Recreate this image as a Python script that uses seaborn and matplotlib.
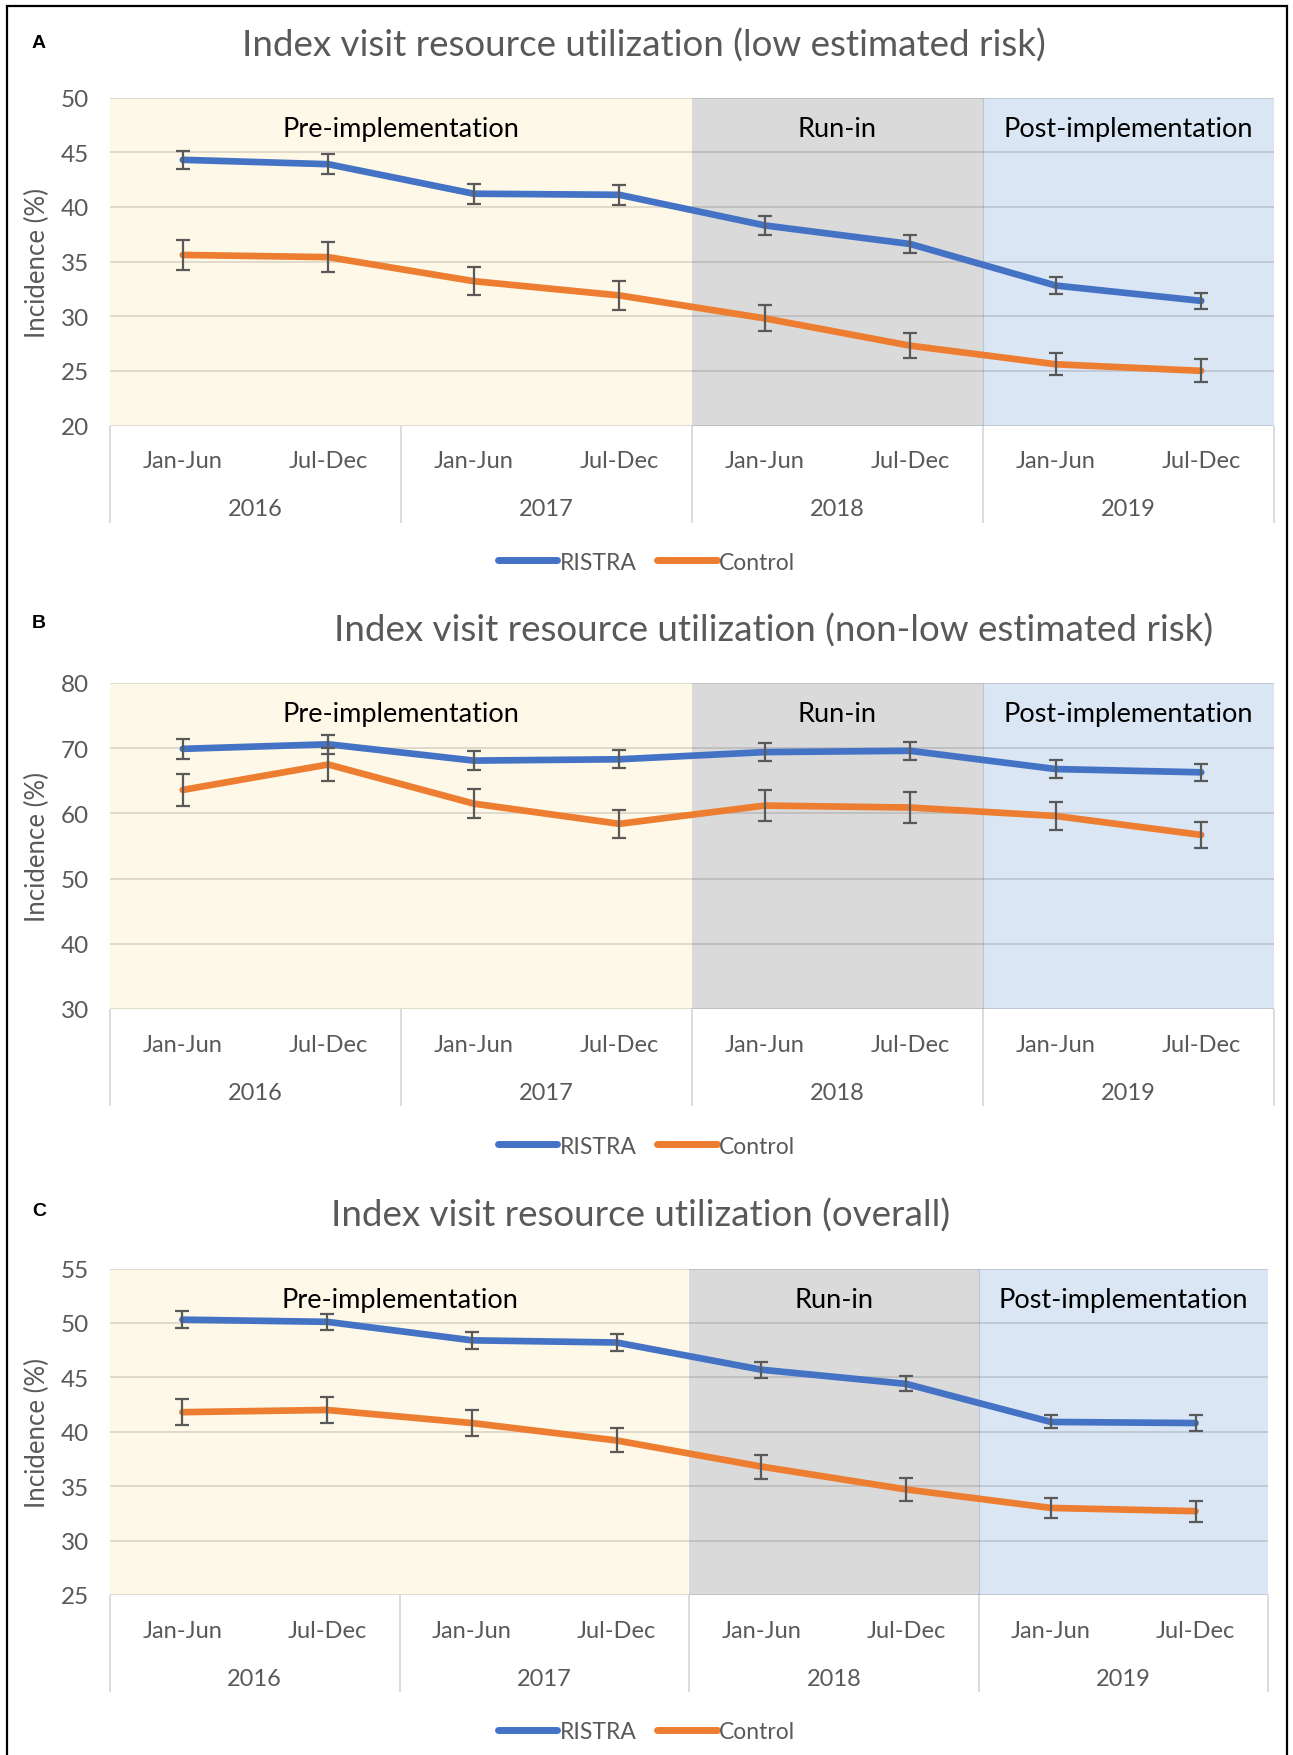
import numpy as np
import pandas as pd
import seaborn as sns
import matplotlib.pyplot as plt
from matplotlib.lines import Line2D
from matplotlib.patches import Rectangle

# ---- data -------------------------------------------------------------
periods = ["Jan-Jun", "Jul-Dec"] * 4
years = ["2016", "2017", "2018", "2019"]
phases = ["Pre-implementation", "Run-in", "Post-implementation"]

low_ristra = [44.3, 43.9, 41.2, 41.1, 38.3, 36.6, 32.8, 31.4]
low_ristra_err = [0.85, 0.9, 0.9, 0.9, 0.85, 0.8, 0.8, 0.75]
low_control = [35.6, 35.4, 33.2, 31.9, 29.8, 27.3, 25.6, 25.0]
low_control_err = [1.35, 1.35, 1.3, 1.3, 1.2, 1.15, 1.0, 1.05]

nonlow_ristra = [69.9, 70.6, 68.1, 68.3, 69.4, 69.6, 66.8, 66.3]
nonlow_ristra_err = [1.5, 1.5, 1.4, 1.35, 1.35, 1.4, 1.35, 1.3]
nonlow_control = [63.6, 67.5, 61.5, 58.4, 61.2, 60.9, 59.6, 56.7]
nonlow_control_err = [2.5, 2.55, 2.2, 2.15, 2.35, 2.35, 2.2, 1.95]

overall_ristra = [50.3, 50.1, 48.4, 48.2, 45.7, 44.4, 40.9, 40.8]
overall_ristra_err = [0.77, 0.75, 0.77, 0.75, 0.75, 0.7, 0.6, 0.7]
overall_control = [41.8, 42.0, 40.8, 39.2, 36.8, 34.7, 33.0, 32.7]
overall_control_err = [1.2, 1.2, 1.2, 1.1, 1.1, 1.05, 0.95, 0.95]

# ---- style ------------------------------------------------------------
sns.set_theme(style="white")
plt.rcParams["font.family"] = ["Lato", "DejaVu Sans"]

BLUE = "#4472C4"
ORANGE = "#ED7D31"
ERR = "#595959"
TEXT = "#595959"
PRE_BG = "#FDF8E7"
RUN_BG = "#DADADA"
POST_BG = "#DAE6F3"

W, H = 1293, 1756
fig = plt.figure(figsize=(W / 100, H / 100), dpi=100)
fig.patch.set_facecolor("white")


def px_rect(left, top, right, bottom):
    return [left / W, 1 - bottom / H, (right - left) / W, (bottom - top) / H]


def panel(rect_px, title, title_xy, letter, letter_y, ylim, yticks,
          ristra, ristra_err, control, control_err, legend_y):
    ax = fig.add_axes(px_rect(*rect_px))
    ax_h_px = rect_px[3] - rect_px[1]
    x = np.arange(len(periods))

    ax.axvspan(-0.5, 3.5, color=PRE_BG, zorder=0, lw=0)
    ax.axvspan(3.5, 5.5, color=RUN_BG, zorder=0, lw=0)
    ax.axvspan(5.5, 7.5, color=POST_BG, zorder=0, lw=0)
    ax.axvline(5.5, color="#9fb3c8", lw=0.8, alpha=0.6, zorder=0.2)

    df = pd.DataFrame({
        "x": np.tile(x, 2),
        "value": list(ristra) + list(control),
        "group": ["RISTRA"] * len(x) + ["Control"] * len(x),
    })
    sns.lineplot(data=df, x="x", y="value", hue="group",
                 palette={"RISTRA": BLUE, "Control": ORANGE},
                 lw=4.8, ax=ax, legend=False, zorder=3,
                 solid_capstyle="round", solid_joinstyle="round")
    ax.errorbar(x, ristra, yerr=ristra_err, fmt="none", ecolor=ERR,
                elinewidth=1.6, capsize=5, capthick=1.6, zorder=4)
    ax.errorbar(x, control, yerr=control_err, fmt="none", ecolor=ERR,
                elinewidth=1.6, capsize=5, capthick=1.6, zorder=4)

    ax.set_xlim(-0.5, 7.5)
    ax.set_ylim(*ylim)
    ax.set_yticks(yticks)
    ax.set_xticks(x, periods)
    ax.set_xlabel("")
    ax.set_ylabel("")
    ax.yaxis.grid(True, color="black", alpha=0.13, lw=1.3)
    ax.xaxis.grid(False)
    for s in ax.spines.values():
        s.set_visible(False)
    ax.tick_params(axis="x", length=0, pad=18, labelsize=17, labelcolor=TEXT)
    ax.tick_params(axis="y", length=0, pad=15, labelsize=17.5, labelcolor=TEXT)

    trans = ax.get_xaxis_transform()
    # year row of the category axis
    for i, yr in enumerate(years):
        ax.annotate(yr, xy=(2 * i + 0.5, 0), xycoords=trans,
                    xytext=(0, -60), textcoords="offset points",
                    ha="center", va="center", fontsize=17, color=TEXT)
    sep = 97 / ax_h_px
    ax.vlines([-0.5, 1.5, 3.5, 5.5, 7.5], -sep, 0, transform=trans,
              colors="#D9D9D9", lw=1.3, clip_on=False)

    # phase captions
    for xc, name in zip([1.5, 4.5, 6.5], phases):
        ax.text(xc, 0.905, name, transform=trans, ha="center", va="center",
                fontsize=19.5, color="black", zorder=5)

    # y label
    y_mid = 1 - ((rect_px[1] + rect_px[3]) / 2) / H
    fig.text(37 / W, y_mid, "Incidence (%)", rotation=90, ha="center",
             va="center", fontsize=18.5, color=TEXT)

    fig.text(title_xy[0] / W, 1 - title_xy[1] / H, title, ha="center",
             va="center", fontsize=26.5, color=TEXT)
    fig.text(39 / W, 1 - letter_y / H, letter, ha="center", va="center",
             fontsize=14, fontweight="bold", color="black",
             family=["Liberation Sans", "DejaVu Sans"])

    handles = [Line2D([0], [0], color=BLUE, lw=5),
               Line2D([0], [0], color=ORANGE, lw=5)]
    fig.legend(handles, ["RISTRA", "Control"], loc="center",
               bbox_to_anchor=(0.5, 1 - legend_y / H), ncol=2,
               frameon=False, handlelength=2.6, handletextpad=0.1,
               columnspacing=0.9, fontsize=16.5, labelcolor=TEXT)
    return ax


panel((110, 98.5, 1274, 426.5),
      "Index visit resource utilization (low estimated risk)", (644, 45.5),
      "A", 43, (20, 50), np.arange(20, 51, 5),
      low_ristra, low_ristra_err, low_control, low_control_err, 563)

panel((110, 684, 1274, 1010),
      "Index visit resource utilization (non-low estimated risk)", (774, 630.5),
      "B", 624, (30, 80), np.arange(30, 81, 10),
      nonlow_ristra, nonlow_ristra_err, nonlow_control, nonlow_control_err, 1147)

panel((110, 1269.5, 1268, 1596),
      "Index visit resource utilization (overall)", (641, 1215.5),
      "C", 1211, (25, 55), np.arange(25, 56, 5),
      overall_ristra, overall_ristra_err, overall_control, overall_control_err, 1733)

# outer frame
fig.add_artist(Rectangle((7 / W, -0.02), (1287 - 7) / W, 1 - 7 / H + 0.02,
                         fill=False, edgecolor="black", lw=1.6,
                         transform=fig.transFigure))

fig.savefig("out.png", dpi=100)
